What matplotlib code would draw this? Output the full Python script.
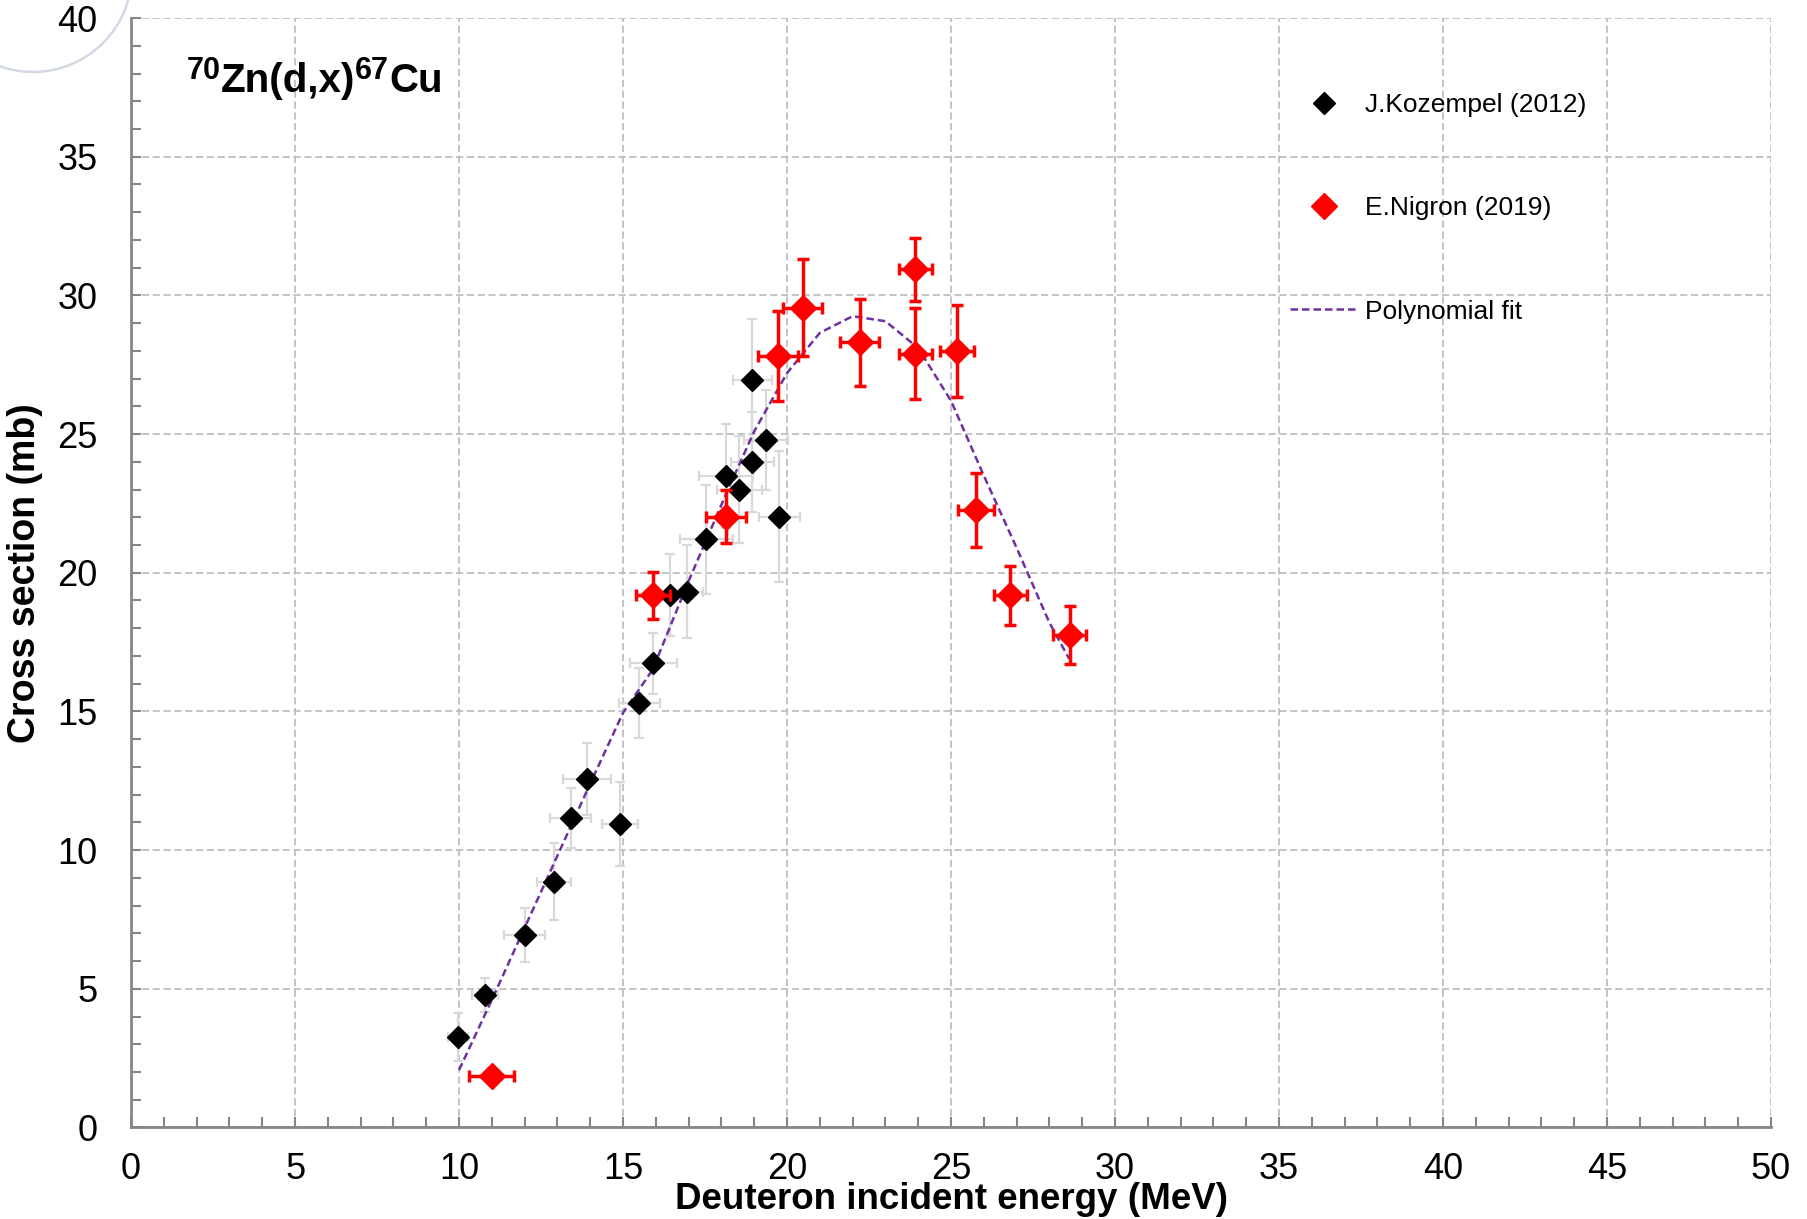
import matplotlib
matplotlib.use("Agg")
import matplotlib.pyplot as plt
from matplotlib.lines import Line2D
from matplotlib.patches import Circle
from matplotlib.ticker import MultipleLocator

plt.rcParams['font.family'] = ['Liberation Sans', 'DejaVu Sans']

# J.Kozempel (2012)
koz_e = [9.97, 10.79, 12.0, 12.89, 13.4, 13.9, 14.91, 15.5, 15.92, 16.43, 16.94,
         17.54, 18.14, 18.54, 18.94, 19.35, 18.94, 19.77]
koz_xs = [3.27, 4.78, 6.94, 8.86, 11.15, 12.55, 10.94, 15.29, 16.73, 19.2, 19.31,
          21.2, 23.49, 23.0, 24.0, 24.78, 26.95, 22.02]
koz_de = [0.3, 0.41, 0.62, 0.51, 0.62, 0.72, 0.54, 0.62, 0.72, 0.5, 0.5,
          0.8, 0.81, 0.69, 0.65, 0.67, 0.6, 0.62]
koz_dxs = [0.87, 0.6, 0.99, 1.38, 1.08, 1.3, 1.5, 1.26, 1.1, 1.47, 1.68,
           1.98, 1.86, 1.92, 1.8, 1.8, 2.19, 2.37]

# E.Nigron (2019)
nig_e = [11.0, 15.91, 18.13, 19.73, 20.48, 22.22, 23.91, 23.91, 25.18, 25.76, 26.81, 28.62]
nig_xs = [1.86, 19.19, 22.02, 27.81, 29.55, 28.31, 30.94, 27.9, 27.99, 22.27, 19.19, 17.75]
nig_de = [0.69, 0.51, 0.61, 0.61, 0.6, 0.59, 0.51, 0.51, 0.51, 0.56, 0.5, 0.5]
nig_dxs = [0.1, 0.85, 0.96, 1.63, 1.75, 1.56, 1.14, 1.65, 1.66, 1.33, 1.07, 1.05]

# Polynomial fit
fit_e = [10, 11, 12, 13, 14, 15, 15.9, 17, 18.2, 19, 20, 21, 22, 23, 24, 25, 26, 27, 28, 28.6]
fit_xs = [2.07, 4.6, 7.2, 9.8, 12.4, 14.95, 16.5, 19.7, 23.0, 25.1, 27.2, 28.65, 29.25,
          29.07, 28.1, 26.2, 23.5, 20.9, 18.2, 16.9]

fig = plt.figure(figsize=(18.08, 12.19), dpi=100)
ax = fig.add_axes([0.0725, 0.0751, 0.907, 0.9101])

ax.set_xlim(0, 50)
ax.set_ylim(0, 40)
ax.xaxis.set_major_locator(MultipleLocator(5))
ax.xaxis.set_minor_locator(MultipleLocator(1))
ax.yaxis.set_major_locator(MultipleLocator(5))
ax.yaxis.set_minor_locator(MultipleLocator(1))

for s in ['top', 'right']:
    ax.spines[s].set_visible(False)
for s in ['left', 'bottom']:
    ax.spines[s].set_color('#868686')
    ax.spines[s].set_linewidth(2)

ax.grid(True, which='major', color='#BFBFBF', linestyle=(0, (4, 2)), linewidth=1.3)
ax.set_axisbelow(True)
ax.tick_params(which='both', direction='in', color='#868686', width=1.5, length=7,
               labelsize=26, labelcolor='black')
ax.tick_params(axis='x', which='major', pad=18)
ax.tick_params(axis='y', which='major', pad=24)

ax.errorbar(koz_e, koz_xs, xerr=koz_de, yerr=koz_dxs, fmt='none',
            ecolor='#D9D9D9', elinewidth=1.6, capsize=3.6, capthick=1.6, zorder=2)
ax.plot(fit_e, fit_xs, color='#7030A0', linestyle=(0, (3, 1.6)), linewidth=1.8, zorder=3)
ax.plot(koz_e, koz_xs, linestyle='none', marker='D', markersize=11,
        color='black', zorder=4)
ax.errorbar(nig_e, nig_xs, xerr=nig_de, yerr=nig_dxs, fmt='D', markersize=13.5,
            color='red', ecolor='red', elinewidth=2.5, capsize=4.3, capthick=2.5, zorder=5)

ax.set_xlabel('Deuteron incident energy (MeV)', fontsize=26.5, fontweight='bold', labelpad=-4)
ax.set_ylabel('Cross section (mb)', fontsize=27, fontweight='bold', labelpad=10)

# reaction label, superscripts as separate pieces
base_y = 37.33
sup_y = 37.8
t1 = ax.text(1.7, sup_y, '70', fontsize=22, fontweight='bold', va='baseline')
t2 = ax.annotate('Zn(d,x)', xy=(1, base_y), xycoords=(t1, 'data'), fontsize=29,
                 fontweight='bold', va='baseline')
t3 = ax.annotate('67', xy=(1, sup_y), xycoords=(t2, 'data'), fontsize=22,
                 fontweight='bold', va='baseline')
ax.annotate('Cu', xy=(1, base_y), xycoords=(t3, 'data'), fontsize=29,
            fontweight='bold', va='baseline')

handles = [
    Line2D([], [], linestyle='none', marker='D', markersize=11, color='black'),
    Line2D([], [], linestyle='none', marker='D', markersize=13.5, color='red'),
    Line2D([], [], color='#7030A0', linestyle=(0, (3, 1.6)), linewidth=1.8),
]
labels = ['J.Kozempel (2012)', 'E.Nigron (2019)', 'Polynomial fit']
ax.legend(handles, labels, loc='upper left', bbox_to_anchor=(0.7067, 0.9322),
          frameon=False, fontsize=19, labelspacing=3.0, handlelength=2.6,
          handletextpad=0.23, borderpad=0, borderaxespad=0)

# decorative arc in the top-left corner
arc = Circle((33, 1219 + 27), 99, transform=None, fill=False,
             edgecolor='#D3D9E4', linewidth=1.8, clip_on=False)
fig.patches.append(arc)

fig.savefig('out.png', dpi=100)
